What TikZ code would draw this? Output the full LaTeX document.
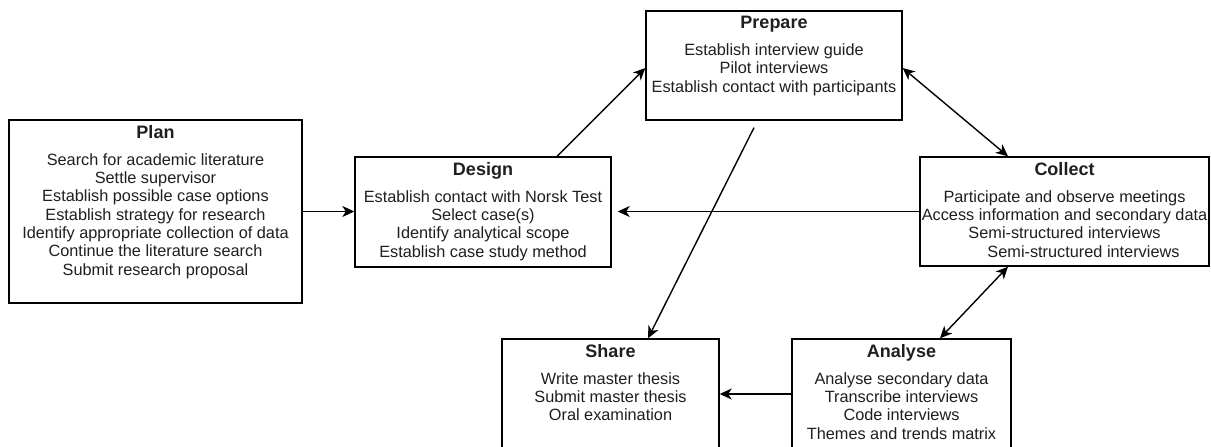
\documentclass[tikz,border=0pt]{standalone}
\usepackage{fontspec}
\setmainfont{Liberation Sans}
\usetikzlibrary{arrows.meta}
\newcommand\boxtitle[1]{{\fontsize{18}{20}\selectfont\bfseries #1}}
\tikzset{
  tip/.tip={Stealth[length=12pt,width=11pt,inset=3.5pt]},
  stagebox/.style={draw=black, line width=1.4pt, inner sep=0pt},
  stagetext/.style={align=center, inner sep=0pt, anchor=north,
    font=\fontsize{16.3}{18.3}\selectfont, text=black!88},
  arr/.style={line width=1.4pt, -tip},
  dbl/.style={line width=1.4pt, tip-tip}
}
\begin{document}
\begin{tikzpicture}[x=1pt, y=-1pt]
\useasboundingbox (0,0) rectangle (1211,447);
\clip (0,0) rectangle (1211,447);
\fill[white] (0,0) rectangle (1211,447);

% stage boxes
\node[stagebox, minimum width=293pt, minimum height=183pt] (plan) at (155.5,211.5) {};
\node[stagebox, minimum width=256pt, minimum height=110pt] (design) at (483,212) {};
\node[stagebox, minimum width=256pt, minimum height=109pt] (prepare) at (774,65.5) {};
\node[stagebox, minimum width=289pt, minimum height=109pt] (collect) at (1064.5,211.5) {};
\node[stagebox, minimum width=217pt, minimum height=110pt] (share) at (610.5,394) {};
\node[stagebox, minimum width=219pt, minimum height=110pt] (analyse) at (901.5,394) {};

% box contents
\node[stagetext] (plantext) at ([yshift=-5.5pt]plan.north) {\boxtitle{Plan}\\[9pt]
  Search for academic literature\\
  Settle supervisor\\
  Establish possible case options\\
  Establish strategy for research\\
  Identify appropriate collection of data\\
  Continue the literature search\\
  Submit research proposal};
\node[stagetext] (designtext) at ([yshift=-5.5pt]design.north) {\boxtitle{Design}\\[9pt]
  Establish contact with Norsk Test\\
  Select case(s)\\
  Identify analytical scope\\
  Establish case study method};
\node[stagetext] (preparetext) at ([yshift=-5.5pt]prepare.north) {\boxtitle{Prepare}\\[9pt]
  Establish interview guide\\
  Pilot interviews\\
  Establish contact with participants};
\node[stagetext] (collecttext) at ([yshift=-5.5pt]collect.north) {\boxtitle{Collect}\\[9pt]
  Participate and observe meetings\\
  Access information and secondary data\\
  Semi-structured interviews\\
  \hspace*{38pt}Semi-structured interviews};
\node[stagetext] (sharetext) at ([yshift=-5.5pt]share.north) {\boxtitle{Share}\\[9pt]
  Write master thesis\\
  Submit master thesis\\
  Oral examination};
\node[stagetext] (analysetext) at ([yshift=-5.5pt]analyse.north) {\boxtitle{Analyse}\\[9pt]
  Analyse secondary data\\
  Transcribe interviews\\
  Code interviews\\
  Themes and trends matrix};

% connectors
\coordinate (prepgap) at ([xshift=-20pt,yshift=-7pt]prepare.south);
\draw[arr] (plan.east) -- (plan.east -| design.west);
\draw[arr] ([xshift=74pt]design.north) -- ([yshift=-2.5pt]prepare.west);
\draw[dbl] ([yshift=-2.5pt]prepare.east) -- ([xshift=-56.5pt]collect.north);
\draw[arr] (prepgap) -- ([xshift=37.5pt]share.north);
\draw[arr] (collect.west) -- ([xshift=6pt]collect.west -| design.east);
\draw[dbl] ([xshift=-56.5pt]collect.south) -- ([xshift=38.5pt]analyse.north);
\draw[arr] (analyse.west) -- (analyse.west -| share.east);
\end{tikzpicture}
\end{document}
